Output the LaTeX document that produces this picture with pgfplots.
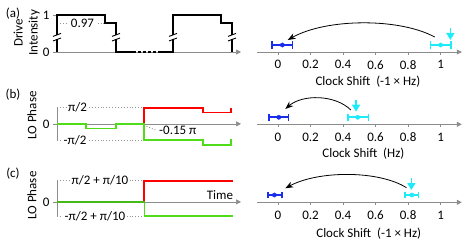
\documentclass[border=0pt]{standalone}
\usepackage{fontspec}
\setmainfont{Carlito}
\usepackage{pgfplots}
\pgfplotsset{compat=1.18}
\usetikzlibrary{arrows.meta}
\definecolor{axgray}{RGB}{140,140,140}
\definecolor{dotgray}{RGB}{150,150,150}
\definecolor{myred}{RGB}{255,0,0}
\definecolor{mygreen}{RGB}{80,220,25}
\definecolor{darkgreen}{RGB}{70,185,25}
\definecolor{myblue}{RGB}{25,45,235}
\definecolor{mycyan}{RGB}{30,235,250}
\newcommand{\fs}{\fontsize{13}{15}\selectfont}
\pgfplotsset{
  leftpanel/.style={
    scale only axis, clip=false, anchor=south west,
    width=184pt, xmin=0, xmax=184,
    axis x line=middle, axis y line=left,
    x axis line style={axgray, line width=0.7pt, -{Triangle[length=5pt,width=5pt]}},
    y axis line style={axgray, line width=0.7pt, -},
    xtick=\empty,
    ytick style={axgray, line width=0.7pt},
    tick align=outside, major tick length=4pt,
    /pgf/number format/assume math mode=true,
    tick label style={font=\fs, black},
    label style={font=\fs},
  },
  rightpanel/.style={
    scale only axis, clip=false, anchor=south west,
    width=205pt, height=30pt, xmin=-0.13, xmax=1.13, ymin=0, ymax=30,
    axis x line=bottom, axis y line=none,
    x axis line style={axgray, line width=0.7pt, -{Triangle[length=5pt,width=5pt]}},
    xtick={0,0.2,0.4,0.6,0.8,1}, xticklabels={0,0.2,0.4,0.6,0.8,1},
    xtick style={axgray, line width=0.7pt},
    tick align=outside, major tick length=2.5pt,
    /pgf/number format/assume math mode=true,
    tick label style={font=\fs, black},
    xticklabel style={yshift=-2.5pt},
    label style={font=\fs},
  },
  ebar/.style={#1, line width=1.9pt, forget plot},
  ecap/.style={#1, line width=1.4pt, forget plot},
  cpt/.style={only marks, #1, mark=*, mark size=2.1pt},
}
\newcommand{\brk}[2]{%
  \fill[white] ([xshift=-1.2pt,yshift=-1.8pt]axis cs:#1,#2) rectangle ([xshift=1.2pt,yshift=1.8pt]axis cs:#1,#2);
  \draw[black, line width=0.9pt] ([xshift=-4pt,yshift=-3.8pt]axis cs:#1,#2) -- ([xshift=4pt,yshift=-0.8pt]axis cs:#1,#2);
  \draw[black, line width=0.9pt] ([xshift=-4pt,yshift=0.8pt]axis cs:#1,#2) -- ([xshift=4pt,yshift=3.8pt]axis cs:#1,#2);
}
\begin{document}
\begin{tikzpicture}[font=\fs]
\useasboundingbox (0,0) rectangle (471pt,247pt);

\node at (13pt,233pt) {(a)};
\node at (13pt,152pt) {(b)};
\node at (13pt,73pt) {(c)};

% ---------- (a) left
\begin{axis}[leftpanel, at={(57pt,195pt)}, height=37pt, ymin=0, ymax=1,
  ytick={0,1}, yticklabels={0,1},
  ylabel={Drive\\Intensity},
  every axis y label/.style={at={(axis description cs:-0.165,0.52)}, rotate=90, anchor=center, align=center}]
\draw[dotgray, dotted, line width=0.9pt] (axis cs:0,0.78) -- (axis cs:48,0.78);
\node[fill=white, inner sep=1.5pt] at (axis cs:25.5,0.78) {0.97};
\addplot[black, line width=1.8pt] coordinates {(0,0) (0,1) (48,1) (48,0.78) (59,0.78) (59,0) (76,0)};
\addplot[black, line width=1.8pt, dash pattern=on 2.5pt off 2.5pt] coordinates {(76,0) (101,0)};
\addplot[black, line width=1.8pt] coordinates {(101,0) (116,0) (116,1) (164,1) (164,0.78) (175,0.78) (175,0)};
\brk{0}{0.4}
\brk{59}{0.4}
\brk{116}{0.4}
\brk{175}{0.4}
\end{axis}

% ---------- (b) left
\begin{axis}[leftpanel, at={(57pt,107pt)}, height=32.3pt, ymin=-1, ymax=1,
  ytick={0}, yticklabels={0},
  ylabel={LO Phase},
  every axis y label/.style={at={(axis description cs:-0.137,0.76)}, rotate=90, anchor=center}]
\draw[dotgray, dotted, line width=0.9pt] (axis cs:0,1) -- (axis cs:87,1);
\draw[dotgray, dotted, line width=0.9pt] (axis cs:0,-1) -- (axis cs:87,-1);
\draw[dotgray, dotted, line width=0.9pt] (axis cs:89.5,-0.15) -- (axis cs:100,-0.42);
\node[fill=white, inner sep=1.5pt] at (axis cs:20.5,1) {π/2};
\node[fill=white, inner sep=1.5pt] at (axis cs:18,-1) {-π/2};
\node[anchor=west, inner sep=1pt] at (axis cs:101,-0.42) {-0.15 π};
\addplot[myred, line width=1.6pt] coordinates {(87,0) (87,1) (146,1) (146,0.7) (174,0.7) (174,1.0)};
\addplot[mygreen, line width=1.6pt] coordinates {(0,0) (29,0) (29,-0.3) (59,-0.3) (59,0) (87,0) (87,-1) (146,-1) (146,-1.3) (174,-1.3) (174,-0.92)};
\end{axis}

% ---------- (c) left
\begin{axis}[leftpanel, at={(57pt,31pt)}, height=35.3pt, ymin=-0.4, ymax=0.6,
  ytick={0}, yticklabels={0},
  ylabel={LO Phase},
  every axis y label/.style={at={(axis description cs:-0.137,0.58)}, rotate=90, anchor=center}]
\draw[dotgray, dotted, line width=0.9pt] (axis cs:0,0.6) -- (axis cs:87,0.6);
\draw[dotgray, dotted, line width=0.9pt] (axis cs:0,-0.4) -- (axis cs:87,-0.4);
\node[fill=white, inner sep=1.5pt] at (axis cs:43,0.6) {π/2 + π/10};
\node[fill=white, inner sep=1.5pt] at (axis cs:38,-0.4) {-π/2 + π/10};
\node at (axis cs:163,0.19) {Time};
\addplot[myred, line width=1.6pt] coordinates {(87,0) (87,0.6) (176,0.6)};
\addplot[mygreen, line width=1.6pt] coordinates {(87.5,0) (87.5,-0.4) (176,-0.4)};
\addplot[darkgreen, line width=2pt] coordinates {(0,0) (88,0)};
\end{axis}

% ---------- (a) right
\begin{axis}[rightpanel, at={(256.8pt,195pt)},
  xlabel={Clock Shift~~(-1 × Hz)},
  every axis x label/.style={at={(axis description cs:0.542,-0.975)}, anchor=center}]
\draw[black, line width=0.8pt, -{Stealth[length=8pt,width=6pt]}] (axis cs:0.963,15) .. controls (axis cs:0.75,34) and (axis cs:0.3,34) .. (axis cs:0.06,12);
\draw[mycyan, line width=1.6pt, -{Triangle[length=7pt,width=8pt]}] (axis cs:1.06,24) -- (axis cs:1.06,12);
\addplot[ebar=myblue] coordinates {(-0.036,7) (0.09,7)};
\addplot[ecap=myblue] coordinates {(-0.036,3.5) (-0.036,10.5)};
\addplot[ecap=myblue] coordinates {(0.09,3.5) (0.09,10.5)};
\addplot[cpt=myblue] coordinates {(0.027,7)};
\addplot[ebar=mycyan] coordinates {(0.937,7) (1.063,7)};
\addplot[ecap=mycyan] coordinates {(0.937,3.5) (0.937,10.5)};
\addplot[ecap=mycyan] coordinates {(1.063,3.5) (1.063,10.5)};
\addplot[cpt=mycyan] coordinates {(1.0,7)};
\end{axis}

% ---------- (b) right
\begin{axis}[rightpanel, at={(256.8pt,122.7pt)},
  xlabel={Clock Shift~~(Hz)},
  every axis x label/.style={at={(axis description cs:0.52,-0.965)}, anchor=center}]
\draw[black, line width=0.8pt, -{Stealth[length=8pt,width=6pt]}] (axis cs:0.448,14.3) .. controls (axis cs:0.35,30) and (axis cs:0.15,30) .. (axis cs:0.045,15.3);
\draw[mycyan, line width=1.6pt, -{Triangle[length=7pt,width=8pt]}] (axis cs:0.48,24.3) -- (axis cs:0.48,12.6);
\addplot[ebar=myblue] coordinates {(-0.055,7) (0.066,7)};
\addplot[ecap=myblue] coordinates {(-0.055,3.5) (-0.055,10.5)};
\addplot[ecap=myblue] coordinates {(0.066,3.5) (0.066,10.5)};
\addplot[cpt=myblue] coordinates {(0.005,7)};
\addplot[ebar=mycyan] coordinates {(0.43,7) (0.556,7)};
\addplot[ecap=mycyan] coordinates {(0.43,3.5) (0.43,10.5)};
\addplot[ecap=mycyan] coordinates {(0.556,3.5) (0.556,10.5)};
\addplot[cpt=mycyan] coordinates {(0.49,7)};
\end{axis}

% ---------- (c) right
\begin{axis}[rightpanel, at={(256.8pt,44.7pt)},
  xlabel={Clock Shift~~(-1 × Hz)},
  every axis x label/.style={at={(axis description cs:0.546,-1.03)}, anchor=center}]
\draw[black, line width=0.8pt, -{Stealth[length=8pt,width=6pt]}] (axis cs:0.79,14.6) .. controls (axis cs:0.62,32) and (axis cs:0.25,32) .. (axis cs:0.045,14);
\draw[mycyan, line width=1.6pt, -{Triangle[length=7pt,width=8pt]}] (axis cs:0.82,24) -- (axis cs:0.82,12.3);
\addplot[ebar=myblue] coordinates {(-0.06,7.3) (0.025,7.3)};
\addplot[ecap=myblue] coordinates {(-0.06,4) (-0.06,10.6)};
\addplot[ecap=myblue] coordinates {(0.025,4) (0.025,10.6)};
\addplot[cpt=myblue] coordinates {(-0.022,7.3)};
\addplot[ebar=mycyan] coordinates {(0.78,7.3) (0.865,7.3)};
\addplot[ecap=mycyan] coordinates {(0.78,4) (0.78,10.6)};
\addplot[ecap=mycyan] coordinates {(0.865,4) (0.865,10.6)};
\addplot[cpt=mycyan] coordinates {(0.823,7.3)};
\end{axis}
\end{tikzpicture}
\end{document}
